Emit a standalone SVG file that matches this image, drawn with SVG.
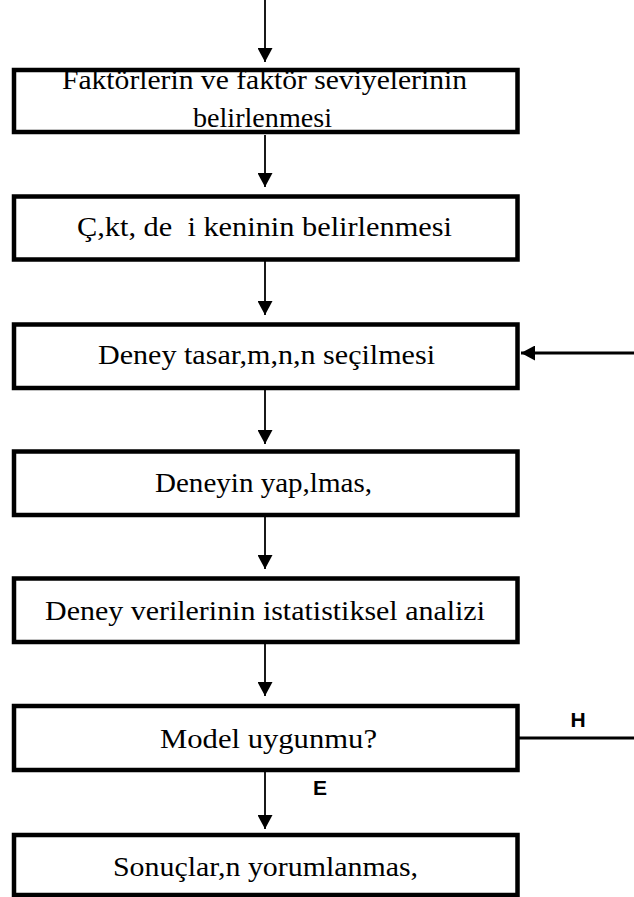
<svg xmlns="http://www.w3.org/2000/svg" width="634" height="897" viewBox="0 0 634 897">
<style>
.box{fill:#fff;stroke:#000;stroke-width:4.5}
.t{font-family:"Liberation Serif","Times New Roman",serif;font-size:28px;fill:#000;text-anchor:middle}
.lbl{font-family:"Liberation Sans",Arial,sans-serif;font-size:21px;font-weight:bold;fill:#000;text-anchor:middle}
.c{stroke:#000;stroke-width:1.8;fill:none}
.c2{stroke:#000;stroke-width:3;fill:none}
</style>
<defs>
<marker id="ah" markerUnits="userSpaceOnUse" markerWidth="15" markerHeight="15" refX="14" refY="7.5" orient="auto" viewBox="0 0 15 15">
<path d="M0,0 L14,7.5 L0,15 z" fill="#000"/>
</marker>
</defs>
<rect width="634" height="897" fill="#fff"/>
<g id="connectors">
<line class="c" x1="265" y1="0" x2="265" y2="62" marker-end="url(#ah)"/>
<line class="c" x1="265" y1="135" x2="265" y2="187" marker-end="url(#ah)"/>
<line class="c" x1="265" y1="258" x2="265" y2="315" marker-end="url(#ah)"/>
<line class="c" x1="265" y1="390" x2="265" y2="444" marker-end="url(#ah)"/>
<line class="c" x1="265" y1="517" x2="265" y2="569" marker-end="url(#ah)"/>
<line class="c" x1="265" y1="644" x2="265" y2="696" marker-end="url(#ah)"/>
<line class="c" x1="265" y1="769" x2="265" y2="829" marker-end="url(#ah)"/>
<line class="c2" x1="634" y1="353" x2="521" y2="353" marker-end="url(#ah)"/>
<line class="c2" x1="519" y1="738" x2="634" y2="738"/>
<text class="lbl" x="578" y="727">H</text>
<text class="lbl" x="320" y="795">E</text>
</g>
<g id="n1">
<rect class="box" x="14" y="70" width="503.5" height="62"/>
<text class="t" x="264.5" y="89" textLength="405" lengthAdjust="spacingAndGlyphs">Faktörlerin ve faktör seviyelerinin</text>
<text class="t" x="262.5" y="127" textLength="139" lengthAdjust="spacingAndGlyphs">belirlenmesi</text>
</g>
<g id="n2">
<rect class="box" x="14" y="196.5" width="503.5" height="63"/>
<text class="t" x="264.5" y="236" textLength="375" lengthAdjust="spacingAndGlyphs" xml:space="preserve">Ç,kt, de  i keninin belirlenmesi</text>
</g>
<g id="n3">
<rect class="box" x="14" y="324.5" width="503.5" height="63.5"/>
<text class="t" x="266.5" y="364" textLength="337" lengthAdjust="spacingAndGlyphs">Deney tasar,m,n,n seçilmesi</text>
</g>
<g id="n4">
<rect class="box" x="14" y="451.5" width="503.5" height="63.5"/>
<text class="t" x="263.5" y="492" textLength="217" lengthAdjust="spacingAndGlyphs">Deneyin yap,lmas,</text>
</g>
<g id="n5">
<rect class="box" x="14" y="578.5" width="503.5" height="63.5"/>
<text class="t" x="265" y="620" textLength="440" lengthAdjust="spacingAndGlyphs">Deney verilerinin istatistiksel analizi</text>
</g>
<g id="n6">
<rect class="box" x="14" y="706" width="503.5" height="64"/>
<text class="t" x="268.5" y="748" textLength="217" lengthAdjust="spacingAndGlyphs">Model uygunmu?</text>
</g>
<g id="n7">
<rect class="box" x="14" y="835" width="503.5" height="60"/>
<text class="t" x="265.5" y="876" textLength="305" lengthAdjust="spacingAndGlyphs">Sonuçlar,n yorumlanmas,</text>
</g>
</svg>
